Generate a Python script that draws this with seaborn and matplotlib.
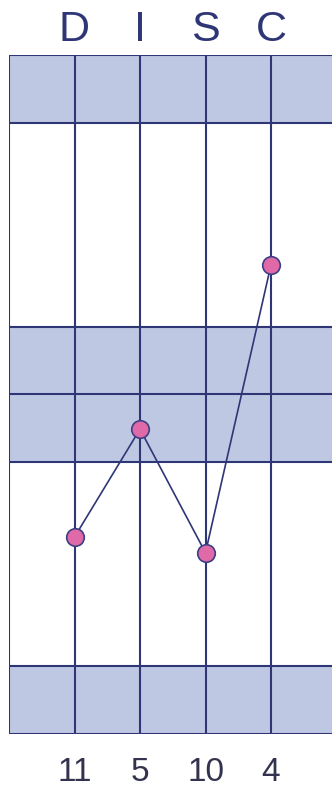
import matplotlib
matplotlib.use('Agg')
import matplotlib.pyplot as plt
import seaborn as sns
import pandas as pd

# DISC profile data
letters = ['D', 'I', 'S', 'C']
scores = ['11', '5', '10', '4']
positions = [29.0, 44.9, 26.7, 69.1]   # height on the 0-100 profile scale
bands = [(0, 10), (40, 50), (50, 60), (90, 100)]
hlines = [0, 10, 40, 50, 60, 90, 100]

navy = '#2e3676'
band_color = '#bfc8e2'

sns.set_style('white')
plt.rcParams['font.family'] = ['Liberation Sans', 'DejaVu Sans']

df = pd.DataFrame({'x': [1, 2, 3, 4], 'y': positions})

fig = plt.figure(figsize=(3.32, 7.87), dpi=100)
ax = fig.add_axes([9 / 332, 53 / 787, 323 / 332, 679 / 787])

for lo, hi in bands:
    ax.axhspan(lo, hi, color=band_color, lw=0, zorder=0)
for h in hlines:
    ax.axhline(h, color=navy, lw=1.5, zorder=1)
for v in [0, 1, 2, 3, 4, 5]:
    ax.axvline(v, color=navy, lw=1.5, zorder=1)

sns.lineplot(data=df, x='x', y='y', color=navy, lw=1.2, ax=ax, zorder=2)
sns.scatterplot(data=df, x='x', y='y', color='#e06aa8', edgecolor='#3d3f85',
                linewidth=1.2, s=160, ax=ax, zorder=3)

ax.set_xlim(0, 323 / 65.5)
ax.set_ylim(0, 100)
ax.set_xlabel('')
ax.set_ylabel('')
ax.set_xticks([])
ax.set_yticks([])

xt = ax.get_xaxis_transform()
for i, (letter, score) in enumerate(zip(letters, scores), start=1):
    ax.text(i, 1.0206, letter, transform=xt, ha='center', va='baseline',
            fontsize=31, color=navy, clip_on=False)
    ax.text(i, -0.069, score, transform=xt, ha='center', va='baseline',
            fontsize=24, color='#33334f', clip_on=False)

for s in ax.spines.values():
    s.set_visible(False)

fig.savefig('out.png', dpi=100)
